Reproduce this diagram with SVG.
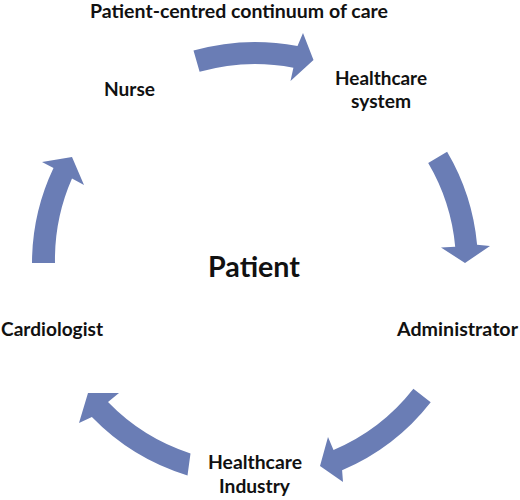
<svg xmlns="http://www.w3.org/2000/svg" width="520" height="500" viewBox="0 0 520 500">
<style>
.lbl{font-family:Lato,"Open Sans","Liberation Sans",sans-serif;font-weight:bold;fill:#111;font-size:18px}
.arr{fill:#6a7db5;stroke:none}
</style>
<rect width="520" height="500" fill="#fff"/>
<g id="title"><text class="lbl" x="90" y="18" textLength="298" lengthAdjust="spacingAndGlyphs">Patient-centred continuum of care</text></g>
<g id="connectors">
<path class="arr" d="M193.5 50.6 A223 223 0 0 1 297.5 46.1 L303 33 L313.5 60 L290.5 81 L293.4 67.7 A201 201 0 0 0 199.6 71.8 Z"/>
<path class="arr" d="M447.1 151.8 A223 223 0 0 1 477.1 244.8 L490 246 L465 263 L441 247.5 L455.2 246.8 A201 201 0 0 0 428.2 163 Z"/>
<path class="arr" d="M430.7 402.3 A223 223 0 0 1 342.1 470.3 L343 482 L320 466 L328 437 L333.5 450 A201 201 0 0 0 413.4 388.8 Z"/>
<path class="arr" d="M187.5 475.5 A223 223 0 0 1 91.9 417.1 L79 423 L88 393 L119 393 L108 402.1 A201 201 0 0 0 190.5 453.5 Z"/>
<path class="arr" d="M32 263 A223 223 0 0 1 53.5 168 L42 162 L72 157 L84 185 L72 178.5 A201 201 0 0 0 55 263 Z"/>
</g>
<g id="patient"><text class="lbl" x="208" y="277" style="font-size:28px" textLength="92" lengthAdjust="spacingAndGlyphs">Patient</text></g>
<g id="healthcare-system">
<text class="lbl" x="335" y="85" textLength="92" lengthAdjust="spacingAndGlyphs">Healthcare</text>
<text class="lbl" x="351" y="108" textLength="60" lengthAdjust="spacingAndGlyphs">system</text>
</g>
<g id="nurse"><text class="lbl" x="104" y="96" textLength="51" lengthAdjust="spacingAndGlyphs">Nurse</text></g>
<g id="cardiologist"><text class="lbl" x="1" y="336" textLength="102" lengthAdjust="spacingAndGlyphs">Cardiologist</text></g>
<g id="administrator"><text class="lbl" x="397" y="336" textLength="121" lengthAdjust="spacingAndGlyphs">Administrator</text></g>
<g id="healthcare-industry">
<text class="lbl" x="208" y="469" textLength="94" lengthAdjust="spacingAndGlyphs">Healthcare</text>
<text class="lbl" x="219" y="493" textLength="71" lengthAdjust="spacingAndGlyphs">Industry</text>
</g>
</svg>
